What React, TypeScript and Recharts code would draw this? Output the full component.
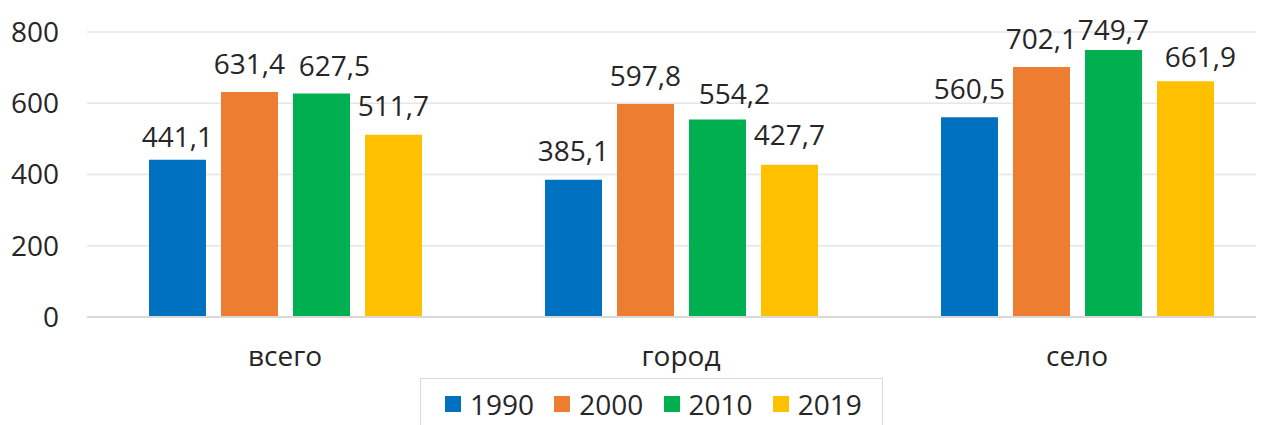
import React from 'react';
import { BarChart, Bar, XAxis, YAxis, CartesianGrid, Legend, LabelList } from 'recharts';

const categories = ['всего', 'город', 'село'];
const years = ['1990', '2000', '2010', '2019'];
const values1990 = [441.1, 385.1, 560.5];
const values2000 = [631.4, 597.8, 702.1];
const values2010 = [627.5, 554.2, 749.7];
const values2019 = [511.7, 427.7, 661.9];
const yTicks = [0, 200, 400, 600, 800];
const colors = ['#0070C0', '#ED7D31', '#00B050', '#FFC000'];

// label placement tweaks (per series, per category), as in the original
const labelShiftX = [
  [0, 0, 0],
  [0, 0, 0],
  [13, 17, 0],
  [0, 0, 15],
];
const labelGap = [
  [13, 19, 18],
  [18, 18, 18],
  [17, 16, 10],
  [19, 20, 14],
];

const seriesValues = [values1990, values2000, values2010, values2019];
const data = categories.map((c, i) => {
  const row: Record<string, string | number> = { name: c };
  years.forEach((y, k) => {
    row[y] = seriesValues[k][i];
  });
  return row;
});

const FONT = '"Open Sans", sans-serif';
const TEXT = '#262626';

const fmt = (v: any) => Number(v).toFixed(1).replace('.', ',');

const makeLabel = (k: number) => (props: any) => {
  const { x, y, width, value, index } = props;
  const cx = Number(x) + Number(width) / 2 + labelShiftX[k][index];
  const by = Number(y) - labelGap[k][index];
  return (
    <text
      x={cx}
      y={by}
      textAnchor="middle"
      fill={TEXT}
      fontSize={28}
      fontFamily={FONT}
    >
      {fmt(value)}
    </text>
  );
};

const renderLegend = (props: any) => {
  const payload = props.payload || [];
  return (
    <div
      style={{
        boxSizing: 'border-box',
        width: 463,
        height: 52,
        border: '1.5px solid #d9d9d9',
        display: 'flex',
        alignItems: 'center',
        paddingLeft: 24,
        fontFamily: FONT,
        fontSize: 28,
        color: TEXT,
      }}
    >
      {payload.map((p: any) => (
        <div key={p.value} style={{ display: 'flex', alignItems: 'center', width: 112 }}>
          <span style={{ display: 'inline-block', width: 16, height: 16, background: p.color, marginRight: 9 }} />
          <span style={{ lineHeight: '28px' }}>{p.value}</span>
        </div>
      ))}
    </div>
  );
};

export default function App() {
  return (
    <div style={{ width: 1256, height: 417, overflow: 'hidden', position: 'relative' }}>
      <BarChart
        width={1267}
        height={420}
        data={data}
        margin={{ top: 24, right: 0, bottom: 51, left: 0 }}
        barSize={57}
        barGap={15}
      >
        <CartesianGrid vertical={false} stroke="#e6e6e6" strokeWidth={1.5} />
        <XAxis
          dataKey="name"
          height={60}
          axisLine={{ stroke: '#d9d9d9', strokeWidth: 2 }}
          tickLine={false}
          tickSize={0}
          tickMargin={29}
          tick={{ fill: TEXT, fontSize: 28, fontFamily: FONT }}
        />
        <YAxis
          width={79}
          domain={[0, 800]}
          ticks={yTicks}
          axisLine={false}
          tickLine={false}
          tickSize={0}
          tickMargin={28}
          tick={{ fill: TEXT, fontSize: 28, fontFamily: FONT }}
        />
        <Legend
          layout="horizontal"
          verticalAlign="middle"
          align="center"
          content={renderLegend}
          wrapperStyle={{ position: 'absolute', left: 412, top: 370, width: 463, height: 52 }}
        />
        {years.map((y, k) => (
          <Bar key={y} dataKey={y} fill={colors[k]} isAnimationActive={false}>
            <LabelList dataKey={y} content={makeLabel(k)} />
          </Bar>
        ))}
      </BarChart>
    </div>
  );
}
